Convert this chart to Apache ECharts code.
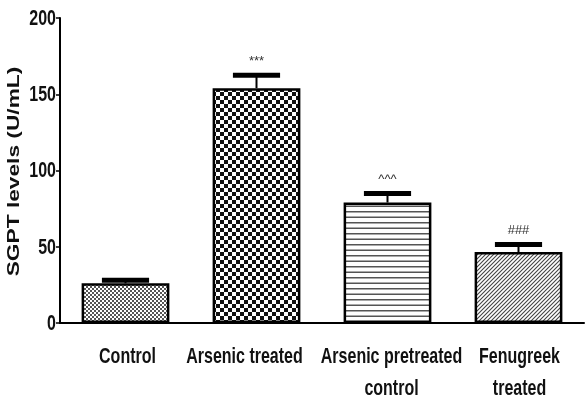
<!DOCTYPE html>
<html>
<head>
<meta charset="utf-8">
<script src="https://cdn.jsdelivr.net/npm/echarts@6/dist/echarts.min.js"></script>
<style>
  html, body { margin: 0; padding: 0; background: #fff; }
  #chart { width: 587px; height: 398px; }
</style>
</head>
<body>
<div id="chart"></div>
<script>
// SGPT levels per treatment group (mean with SEM)
const categories = ['Control', 'Arsenic treated', 'Arsenic pretreated\ncontrol', 'Fenugreek\ntreated'];
const means = [26, 154, 79, 46.5];
const errors = [2, 8.5, 6, 5];
const marks = ['', '***', '^^^', '###'];
const yTicks = [0, 50, 100, 150, 200];
const yTitle = 'SGPT levels (U/mL)';

const FONT = '"Liberation Sans", Arial, sans-serif';
const STRETCH = 1.35; // tall, condensed-looking lettering
const labelNudge = [2, -12, 4, 1]; // keeps neighbouring category labels apart

// Fill patterns for the bars
function makePattern(w, h, draw) {
  const c = document.createElement('canvas');
  c.width = w; c.height = h;
  const ctx = c.getContext('2d');
  ctx.fillStyle = '#fff';
  ctx.fillRect(0, 0, w, h);
  draw(ctx);
  return { image: c, repeat: 'repeat' };
}
const fineChecker = makePattern(4, 4, ctx => {
  ctx.fillStyle = '#555';
  ctx.fillRect(0, 0, 2, 2); ctx.fillRect(2, 2, 2, 2);
});
const coarseChecker = makePattern(8, 8, ctx => {
  ctx.fillStyle = '#111';
  ctx.fillRect(0, 0, 4, 4); ctx.fillRect(4, 4, 4, 4);
});
const hLines = makePattern(11, 11, ctx => {
  ctx.fillStyle = '#555';
  ctx.fillRect(0, 2, 11, 1.5);
  ctx.fillRect(0, 7.5, 11, 1.5);
});
const diagLines = makePattern(4, 4, ctx => {
  ctx.strokeStyle = '#444';
  ctx.lineWidth = 1.1;
  ctx.beginPath();
  ctx.moveTo(-1, 5); ctx.lineTo(5, -1);
  ctx.moveTo(-1, 1); ctx.lineTo(1, -1);
  ctx.moveTo(3, 5); ctx.lineTo(5, 3);
  ctx.stroke();
});
const fills = [fineChecker, coarseChecker, hLines, diagLines];

const chart = echarts.init(document.getElementById('chart'));
chart.setOption({
  animation: false,
  grid: { left: 60, right: 3, top: 18, bottom: 75 },
  xAxis: {
    type: 'category',
    data: categories,
    axisLine: { lineStyle: { color: '#000', width: 2 } },
    axisTick: { alignWithLabel: true, length: 6, lineStyle: { color: '#000', width: 1.5 } },
    axisLabel: { show: false }
  },
  yAxis: {
    type: 'value',
    min: 0, max: 200, interval: 50,
    splitLine: { show: false },
    axisLine: { show: true, lineStyle: { color: '#000', width: 2 } },
    axisTick: { show: true, length: 4, lineStyle: { color: '#000', width: 1.5 } },
    axisLabel: { show: false }
  },
  series: [
    {
      type: 'bar',
      barWidth: '67%',
      data: means.map((v, i) => ({
        value: v,
        itemStyle: { color: fills[i], borderColor: '#000', borderWidth: 2.5 }
      })),
      z: 2
    },
    // error bars with significance marks
    {
      type: 'custom',
      z: 3,
      data: means.map((v, i) => [i, v, errors[i]]),
      renderItem: (params, api) => {
        const i = api.value(0);
        const base = api.coord([i, api.value(1)]);
        const top = api.coord([i, api.value(1) + api.value(2)]);
        const band = api.size([1, 0])[0];
        const half = band * 0.18;
        const children = [
          { type: 'line', shape: { x1: base[0], y1: base[1], x2: top[0], y2: top[1] },
            style: { stroke: '#000', lineWidth: 2 } },
          { type: 'line', shape: { x1: top[0] - half, y1: top[1], x2: top[0] + half, y2: top[1] },
            style: { stroke: '#000', lineWidth: 5 } }
        ];
        const mark = marks[i];
        if (mark) {
          children.push({
            type: 'text',
            x: top[0], y: top[1] - 14,
            style: {
              text: mark, x: 0, y: 0,
              align: 'center', verticalAlign: 'middle',
              fill: '#333', font: '13px ' + FONT
            }
          });
        }
        return { type: 'group', children };
      }
    },
    // category labels under the x axis
    {
      type: 'custom',
      z: 4,
      silent: true,
      data: categories.map((c, i) => [i, 0]),
      renderItem: (params, api) => {
        const i = api.value(0);
        const p = api.coord([i, 0]);
        return {
          type: 'text',
          x: p[0] + labelNudge[i], y: p[1] + 19,
          scaleY: STRETCH,
          style: {
            text: categories[i], x: 0, y: 0,
            align: 'center', verticalAlign: 'top', lineHeight: 23,
            fill: '#111', font: 'bold 16px ' + FONT
          }
        };
      }
    },
    // value labels beside the y axis
    {
      type: 'custom',
      z: 4,
      silent: true,
      data: yTicks.map(v => [0, v]),
      renderItem: (params, api) => {
        const v = api.value(1);
        const p = api.coord([0, v]);
        const x0 = params.coordSys.x;
        return {
          type: 'text',
          x: x0 - 4, y: p[1] + 1,
          scaleY: STRETCH,
          style: {
            text: String(v), x: 0, y: 0,
            align: 'right', verticalAlign: 'middle',
            fill: '#111', font: 'bold 16px ' + FONT
          }
        };
      }
    },
    // y axis title
    {
      type: 'custom',
      z: 4,
      silent: true,
      data: [[0, 100]],
      renderItem: (params, api) => {
        const cs = params.coordSys;
        return {
          type: 'text',
          x: cs.x - 45, y: cs.y + cs.height / 2 + 1,
          rotation: Math.PI / 2,
          scaleX: 1.42,
          style: {
            text: yTitle, x: 0, y: 0,
            align: 'center', verticalAlign: 'middle',
            fill: '#111', font: 'bold 16px ' + FONT
          }
        };
      }
    }
  ]
});
</script>
</body>
</html>
